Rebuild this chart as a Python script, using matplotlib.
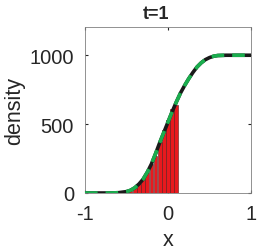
import numpy as np
import matplotlib.pyplot as plt

plt.rcParams['font.family'] = ['Liberation Sans', 'DejaVu Sans']
plt.rcParams['axes.unicode_minus'] = False

# curve (density vs x)
curve_x = [-1.0, -0.7, -0.6, -0.5, -0.45, -0.4, -0.35, -0.3, -0.25, -0.2,
           -0.15, -0.1, -0.05, 0.0, 0.05, 0.1, 0.15, 0.2, 0.25, 0.3, 0.35,
           0.4, 0.45, 0.5, 0.55, 0.6, 0.7, 0.8, 1.0]
curve_y = [0, 0, 2, 10, 20, 38, 65, 100, 150, 210, 285, 365, 440, 515, 590,
           660, 725, 780, 830, 875, 915, 945, 968, 983, 993, 998, 1000, 1000, 1000]

# histogram bars
bar_x = [-0.55, -0.5, -0.45, -0.4, -0.35, -0.3, -0.25, -0.2, -0.15, -0.1,
         -0.05, 0.0, 0.05, 0.1]
bar_h = [2, 6, 18, 38, 66, 102, 155, 212, 272, 370, 460, 530, 613, 640]

fig = plt.figure(figsize=(2.58, 2.51), dpi=100)
ax = fig.add_axes([85/258, 57/251, 166/258, 166/251])

ax.bar(bar_x, bar_h, width=0.044, color='#e8191e', edgecolor='#5a1a1a',
       linewidth=0.4, zorder=2)
ax.plot(curve_x, curve_y, color='#1a1a1a', lw=2.6, zorder=3)
ax.plot(curve_x, curve_y, color='#1aae4e', lw=2.6, dashes=(3.5, 2.2), zorder=4)

ax.set_xlim(-1, 1)
ax.set_ylim(0, 1205)
ax.set_xticks([-1, 0, 1])
ax.set_yticks([0, 500, 1000])
ax.tick_params(direction='in', length=2.5, labelsize=14.5, colors='#262626',
               top=True, right=True)
ax.tick_params(axis='x', pad=8)
ax.tick_params(axis='y', pad=8)
for s in ax.spines.values():
    s.set_color('#808080')
    s.set_linewidth(0.6)

ax.set_xlabel('x', fontsize=15.5, color='#262626', labelpad=4)
ax.set_ylabel('density', fontsize=15.5, color='#262626', labelpad=3)
fig.text(156/258, 1 - 15/251, 't=1', ha='center', va='center',
         fontsize=13, fontweight='bold', color='#262626')

fig.savefig('out.png', dpi=100)
